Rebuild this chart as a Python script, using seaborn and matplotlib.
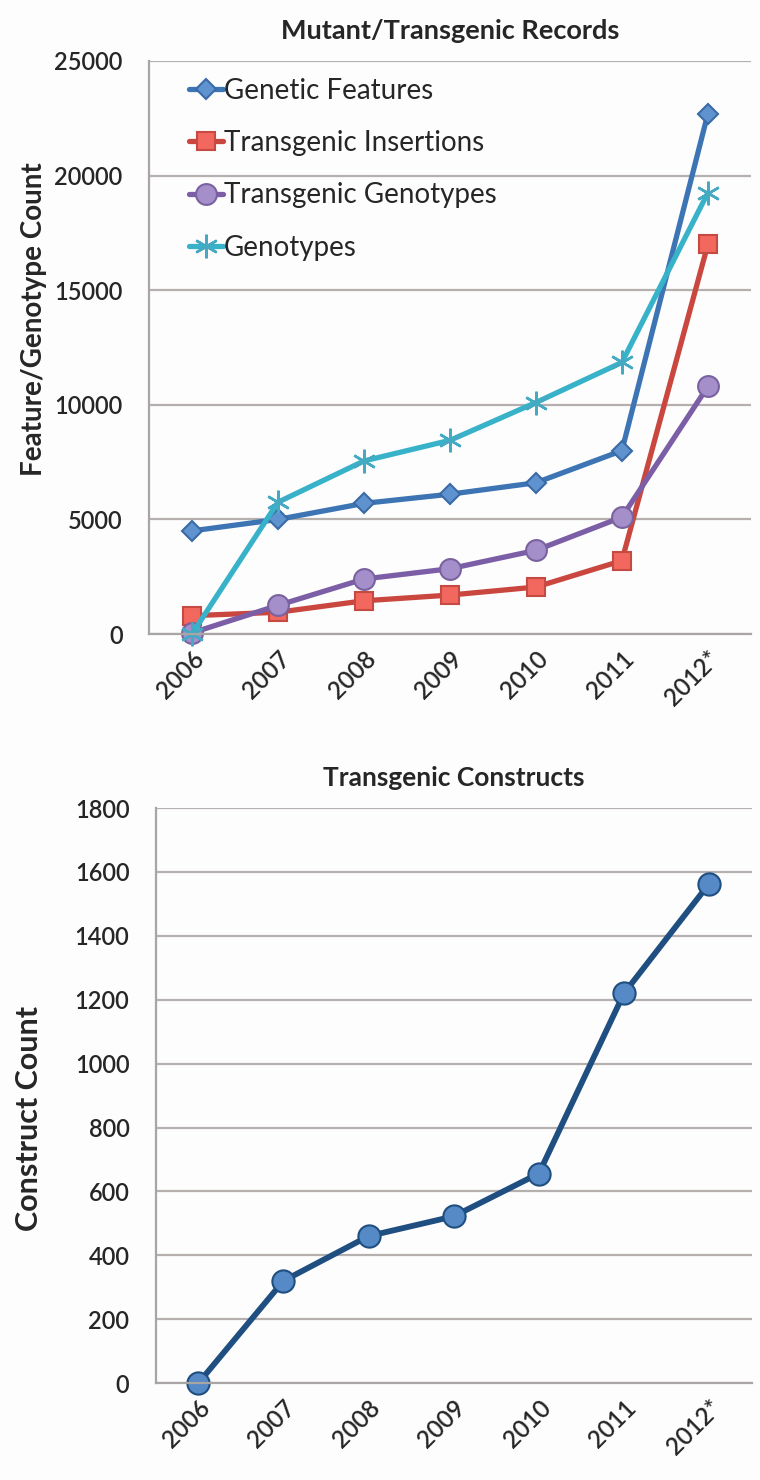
import pandas as pd
import matplotlib.pyplot as plt
import seaborn as sns

# ---- data ----
years = ["2006", "2007", "2008", "2009", "2010", "2011", "2012*"]

genetic_features = [4500, 5000, 5700, 6100, 6600, 8000, 22700]
transgenic_insertions = [800, 950, 1450, 1700, 2050, 3200, 17000]
transgenic_genotypes = [50, 1250, 2400, 2850, 3650, 5100, 10800]
genotypes = [0, 5750, 7550, 8450, 10100, 11850, 19250]

constructs = [0, 320, 460, 522, 656, 1220, 1563]

series_names = ["Genetic Features", "Transgenic Insertions",
                "Transgenic Genotypes", "Genotypes"]
series_values = [genetic_features, transgenic_insertions,
                 transgenic_genotypes, genotypes]

# line colour, marker, marker face, marker edge, marker size
styles = {
    "Genetic Features": ("#3d74b4", "D", "#5f93cf", "#3a6ba6", 10),
    "Transgenic Insertions": ("#c9473f", "s", "#f2675e", "#c44a42", 13),
    "Transgenic Genotypes": ("#7b5ea6", "o", "#a48fcb", "#7a62a0", 15),
    "Genotypes": ("#38b2c9", (6, 2, 0), "#3fb0c8", "#45a9c2", 17),
}

grid_col = "#b5afae"
spine_col = "#aaa5a5"


def style_axes(ax, ymax, ystep):
    n = len(years)
    ax.set_xlim(-0.5, n - 0.5)
    ax.set_ylim(0, ymax)
    ax.set_yticks(range(0, ymax + 1, ystep))
    ax.set_xticks(range(n))
    ax.set_xticklabels(years, rotation=45, ha="right", va="top",
                       rotation_mode="anchor", fontsize=17.5,
                       fontweight="semibold")
    for lbl in ax.get_yticklabels():
        lbl.set_fontsize(17)
        lbl.set_fontweight("semibold")
    ax.set_xticks([i - 0.5 for i in range(n + 1)], minor=True)
    ax.tick_params(axis="x", which="major", length=0, pad=9)
    ax.tick_params(axis="x", which="minor", length=8, width=1.6, color=spine_col)
    ax.tick_params(axis="y", length=7, width=1.6, color=spine_col, pad=12)
    ax.grid(axis="y", color=grid_col, lw=1.6)
    ax.grid(axis="x", visible=False)
    for s in ["top", "right"]:
        ax.spines[s].set_visible(False)
    for s in ["left", "bottom"]:
        ax.spines[s].set_color(spine_col)
        ax.spines[s].set_linewidth(1.6)
    ax.set_xlabel("")
    ax.set_facecolor("#fdfdfd")


def main():
    sns.set_style("white")
    plt.rcParams["font.family"] = ["Lato", "DejaVu Sans"]

    fig = plt.figure(figsize=(7.6, 14.8), dpi=100)
    fig.patch.set_facecolor("#fdfdfd")

    # ---- top chart ----
    ax1 = fig.add_axes([0.196, 0.5716, 0.792, 0.3872])
    for name, vals in zip(series_names, series_values):
        lc, mk, fc, ec, ms = styles[name]
        df = pd.DataFrame({"year": years, "count": vals})
        sns.lineplot(data=df, x="year", y="count", ax=ax1, sort=False,
                     color=lc, lw=3.8, marker=mk, markersize=ms,
                     markerfacecolor=fc, markeredgecolor=ec,
                     markeredgewidth=1.5 if name != "Genotypes" else 1.8,
                     label=name, clip_on=False)
    style_axes(ax1, 25000, 5000)
    ax1.set_ylabel("Feature/Genotype Count", fontsize=20, fontweight="bold")
    ax1.yaxis.set_label_coords(-0.17, 0.55)
    ax1.set_title("Mutant/Transgenic Records", fontsize=19.5, fontweight="bold",
                  pad=16)
    ax1.legend(loc="upper left", bbox_to_anchor=(0.035, 1.005), frameon=False,
               fontsize=20, handlelength=1.2, handletextpad=0.05,
               labelspacing=0.95, borderaxespad=0.3)

    # ---- bottom chart ----
    ax2 = fig.add_axes([0.205, 0.0655, 0.784, 0.3885])
    dfc = pd.DataFrame({"year": years, "constructs": constructs})
    sns.lineplot(data=dfc, x="year", y="constructs", ax=ax2, sort=False,
                 color="#1f4f80", lw=4.2, marker="o", markersize=16,
                 markerfacecolor="#558ac6", markeredgecolor="#1f4f80",
                 markeredgewidth=1.5, clip_on=False)
    style_axes(ax2, 1800, 200)
    ax2.set_ylabel("Construct Count", fontsize=22, fontweight="bold")
    ax2.yaxis.set_label_coords(-0.19, 0.46)
    ax2.set_title("Transgenic Constructs", fontsize=19, fontweight="bold",
                  pad=16)

    fig.savefig("out.png", dpi=100, facecolor=fig.get_facecolor())
    plt.close(fig)


if __name__ == "__main__":
    main()
